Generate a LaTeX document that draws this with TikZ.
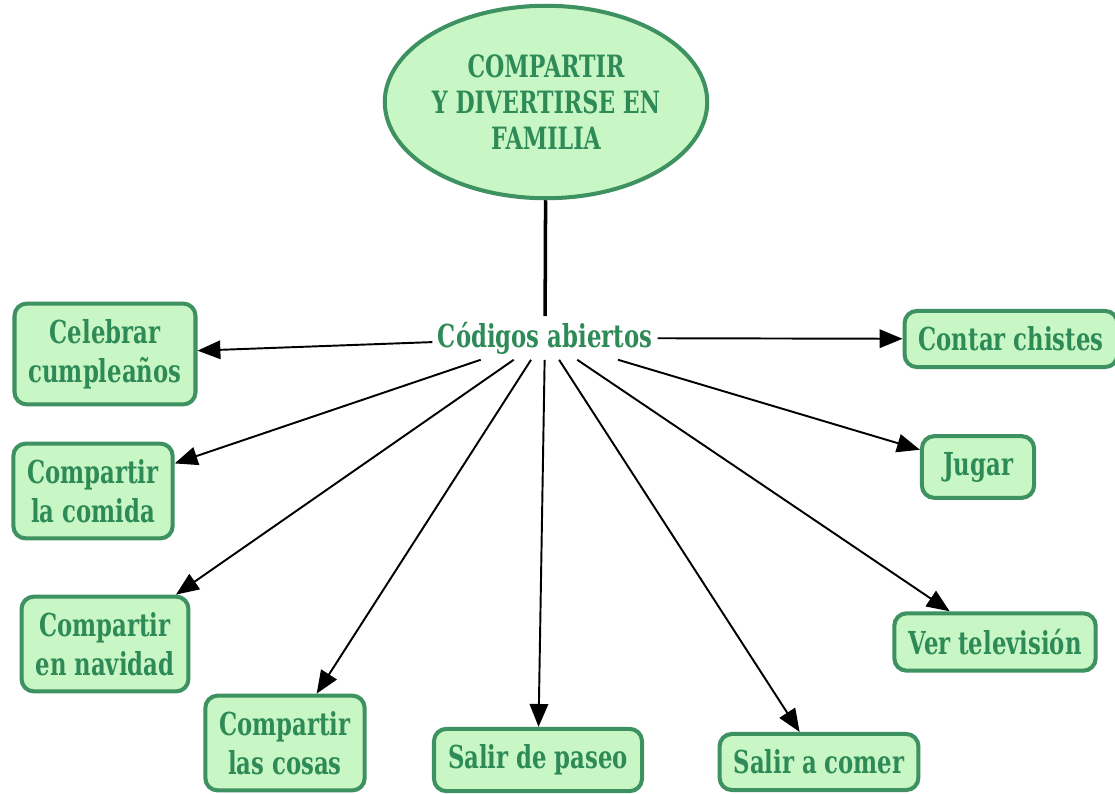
\documentclass[tikz,border=0pt]{standalone}
\usepackage{fontspec}
\newfontfamily\slabfont[FakeStretch=0.72]{DejaVu Serif}
\usetikzlibrary{
		arrows.meta,
		shapes.geometric,
		positioning
	}
\definecolor{leafgreen}{HTML}{2E8B57}
\definecolor{mintfill}{HTML}{C8F7C5}
\definecolor{boxline}{HTML}{3E9160}
\tikzset{
		>={Triangle[length=13pt,width=10.5pt]},
		idea/.style={draw=boxline, fill=mintfill, line width=2.3pt, rounded corners=7pt,
			align=center, text=leafgreen, inner xsep=8pt, inner ysep=9pt,
			font=\slabfont\bfseries\fontsize{18}{22}\selectfont}
	}

\begin{document}
\begin{tikzpicture}[x=0.02cm, y=-0.02cm]
              \useasboundingbox (0,0) rectangle (1115,794);

              % the main topic
              \node[ellipse, draw=boxline, fill=mintfill, line width=2.3pt, minimum width=6.3cm,
                    minimum height=3.85cm, inner sep=0pt, align=center, text=leafgreen,
                    font=\slabfont\bfseries\fontsize{17.5}{20.6}\selectfont] (tema) at (546,102)
                    {COMPARTIR\\Y DIVERTIRSE EN\\FAMILIA};

              % the linking words
              \node[text=leafgreen, inner sep=3pt, font=\slabfont\bfseries\fontsize{18}{22}\selectfont]
                    (codigos) at (545,338) {Códigos abiertos};

              % the concepts round it
              \node[idea] (celebrar) at (105,354) {Celebrar\\cumpleaños};
              \node[idea] (comida) at (93,491) {Compartir\\la comida};
              \node[idea] (navidad) at (105,644) {Compartir\\en navidad};
              \node[idea] (cosas) at (285,743) {Compartir\\las cosas};
              \node[idea] (paseo) at (538,760) {Salir de paseo};
              \node[idea] (comer) at (819,762) {Salir a comer};
              \node[idea] (tele) at (995,642) {Ver televisión};
              \node[idea, inner xsep=12pt] (jugar) at (978,467) {Jugar};
              \node[idea] (chistes) at (1011,339) {Contar chistes};

              % draw the arrows
              \draw[line width=2pt] (tema) -- (codigos);
              \draw[->, line width=1.1pt] (codigos) -- (celebrar);
              \draw[->, line width=1.1pt] (codigos) -- (comida);
              \draw[->, line width=1.1pt] (codigos) -- (navidad);
              \draw[->, line width=1.1pt] (codigos) -- (cosas);
              \draw[->, line width=1.1pt] (codigos) -- (paseo);
              \draw[->, line width=1.1pt] (codigos) -- (comer);
              \draw[->, line width=1.1pt] (codigos) -- (tele);
              \draw[->, line width=1.1pt] (codigos) -- (jugar);
              \draw[->, line width=1.1pt] (codigos) -- (chistes);

          \end{tikzpicture}
\end{document}
